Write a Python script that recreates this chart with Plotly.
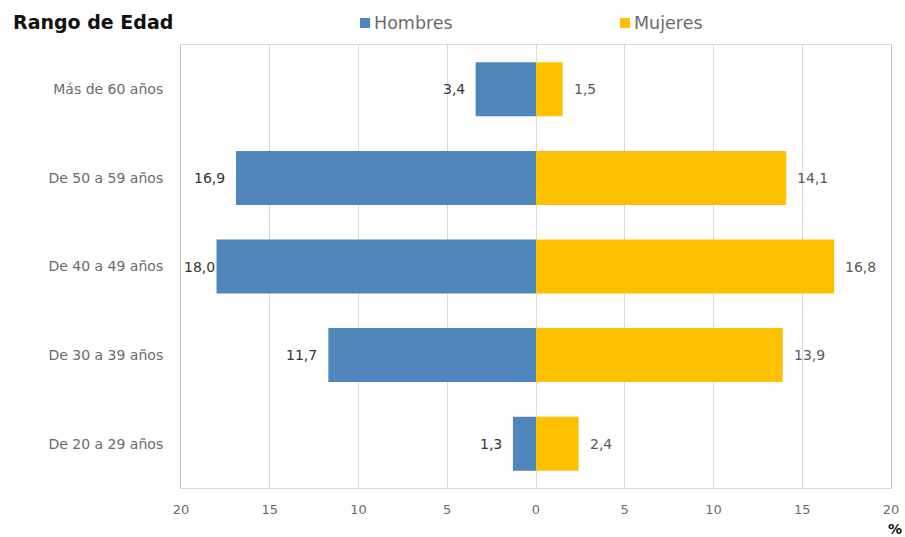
import plotly.graph_objects as go

# Age brackets (bottom to top) and percentage shares by sex
categories = ["De 20 a 29 años", "De 30 a 39 años", "De 40 a 49 años",
              "De 50 a 59 años", "Más de 60 años"]
hombres = [1.3, 11.7, 18.0, 16.9, 3.4]
mujeres = [2.4, 13.9, 16.8, 14.1, 1.5]
series_names = ["Hombres", "Mujeres"]
tick_values = [-20, -15, -10, -5, 0, 5, 10, 15, 20]
tick_labels = ["20", "15", "10", "5", "0", "5", "10", "15", "20"]

BLUE = "#4F86BC"
GOLD = "#FFC000"
FONT = "'DejaVu Sans', sans-serif"
X_MIN, X_MAX = -20, 20

W, H = 905, 537
M_L, M_R, M_T, M_B = 181, 14, 45, 49
PW, PH = W - M_L - M_R, H - M_T - M_B


def px_x(px):
    """Pixel column -> paper x."""
    return (px - M_L) / PW


def px_y(py):
    """Pixel row (from top) -> paper y."""
    return (H - M_B - py) / PH


fig = go.Figure()
fig.add_trace(go.Bar(
    y=categories, x=[-v for v in hombres], name=series_names[0], orientation="h",
    marker=dict(color=BLUE, line=dict(width=0)), hoverinfo="skip", showlegend=False,
))
fig.add_trace(go.Bar(
    y=categories, x=mujeres, name=series_names[1], orientation="h",
    marker=dict(color=GOLD, line=dict(width=0)), hoverinfo="skip", showlegend=False,
))


def fmt(v):
    return f"{v:.1f}".replace(".", ",")


annotations = []
for cat, v in zip(categories, hombres):
    # labels sit just outside the bar end, but never past the plot's left edge
    if -v - 2.4 < X_MIN:
        annotations.append(dict(x=X_MIN, y=cat, text=fmt(v), showarrow=False,
                                xanchor="left", xshift=1,
                                font=dict(family=FONT, size=14, color="#333333")))
    else:
        annotations.append(dict(x=-v, y=cat, text=fmt(v), showarrow=False,
                                xanchor="right", xshift=-9,
                                font=dict(family=FONT, size=14, color="#333333")))
for cat, v in zip(categories, mujeres):
    annotations.append(dict(x=v, y=cat, text=fmt(v), showarrow=False,
                            xanchor="left", xshift=9,
                            font=dict(family=FONT, size=14, color="#595959")))

# chart title and unit marker
annotations.append(dict(xref="paper", yref="paper", x=px_x(11), y=px_y(22),
                        xanchor="left", yanchor="middle", text="<b>Rango de Edad</b>",
                        showarrow=False, font=dict(family=FONT, size=19, color="#111111")))
annotations.append(dict(xref="paper", yref="paper", x=px_x(904), y=px_y(529),
                        xanchor="right", yanchor="middle", text="<b>%</b>",
                        showarrow=False, font=dict(family=FONT, size=14, color="#111111")))

# legend drawn as swatch + label pairs across the top
shapes = []
legend_items = [(series_names[0], BLUE, 360), (series_names[1], GOLD, 620)]
for name, color, x0 in legend_items:
    shapes.append(dict(type="rect", xref="paper", yref="paper",
                       x0=px_x(x0), x1=px_x(x0 + 10), y0=px_y(28), y1=px_y(18),
                       fillcolor=color, line=dict(width=0), layer="above"))
    annotations.append(dict(xref="paper", yref="paper", x=px_x(x0 + 12), y=px_y(23),
                            xanchor="left", yanchor="middle", text=name, showarrow=False,
                            font=dict(family=FONT, size=17.5, color="#6B6B6B")))

fig.update_layout(
    width=W, height=H,
    margin=dict(l=M_L, r=M_R, t=M_T, b=M_B, autoexpand=False),
    paper_bgcolor="white", plot_bgcolor="white",
    barmode="relative", bargap=0.39,
    font=dict(family=FONT, color="#595959"),
    showlegend=False,
    annotations=annotations,
    shapes=shapes,
    xaxis=dict(range=[X_MIN, X_MAX], tickvals=tick_values, ticktext=tick_labels,
               showgrid=True, gridcolor="#D9D9D9", gridwidth=1,
               zeroline=False, showline=True, linecolor="#D9D9D9", mirror=True,
               ticks="", ticklabelstandoff=9, automargin=False,
               tickfont=dict(family=FONT, size=13, color="#6B6B6B"), fixedrange=True),
    yaxis=dict(categoryorder="array", categoryarray=categories,
               showgrid=False, zeroline=False, showline=True, linecolor="#BFBFBF",
               mirror=True, ticks="", ticklabelstandoff=14, automargin=False,
               tickfont=dict(family=FONT, size=14, color="#6B6B6B"), fixedrange=True),
)

fig.write_html("out.html")
